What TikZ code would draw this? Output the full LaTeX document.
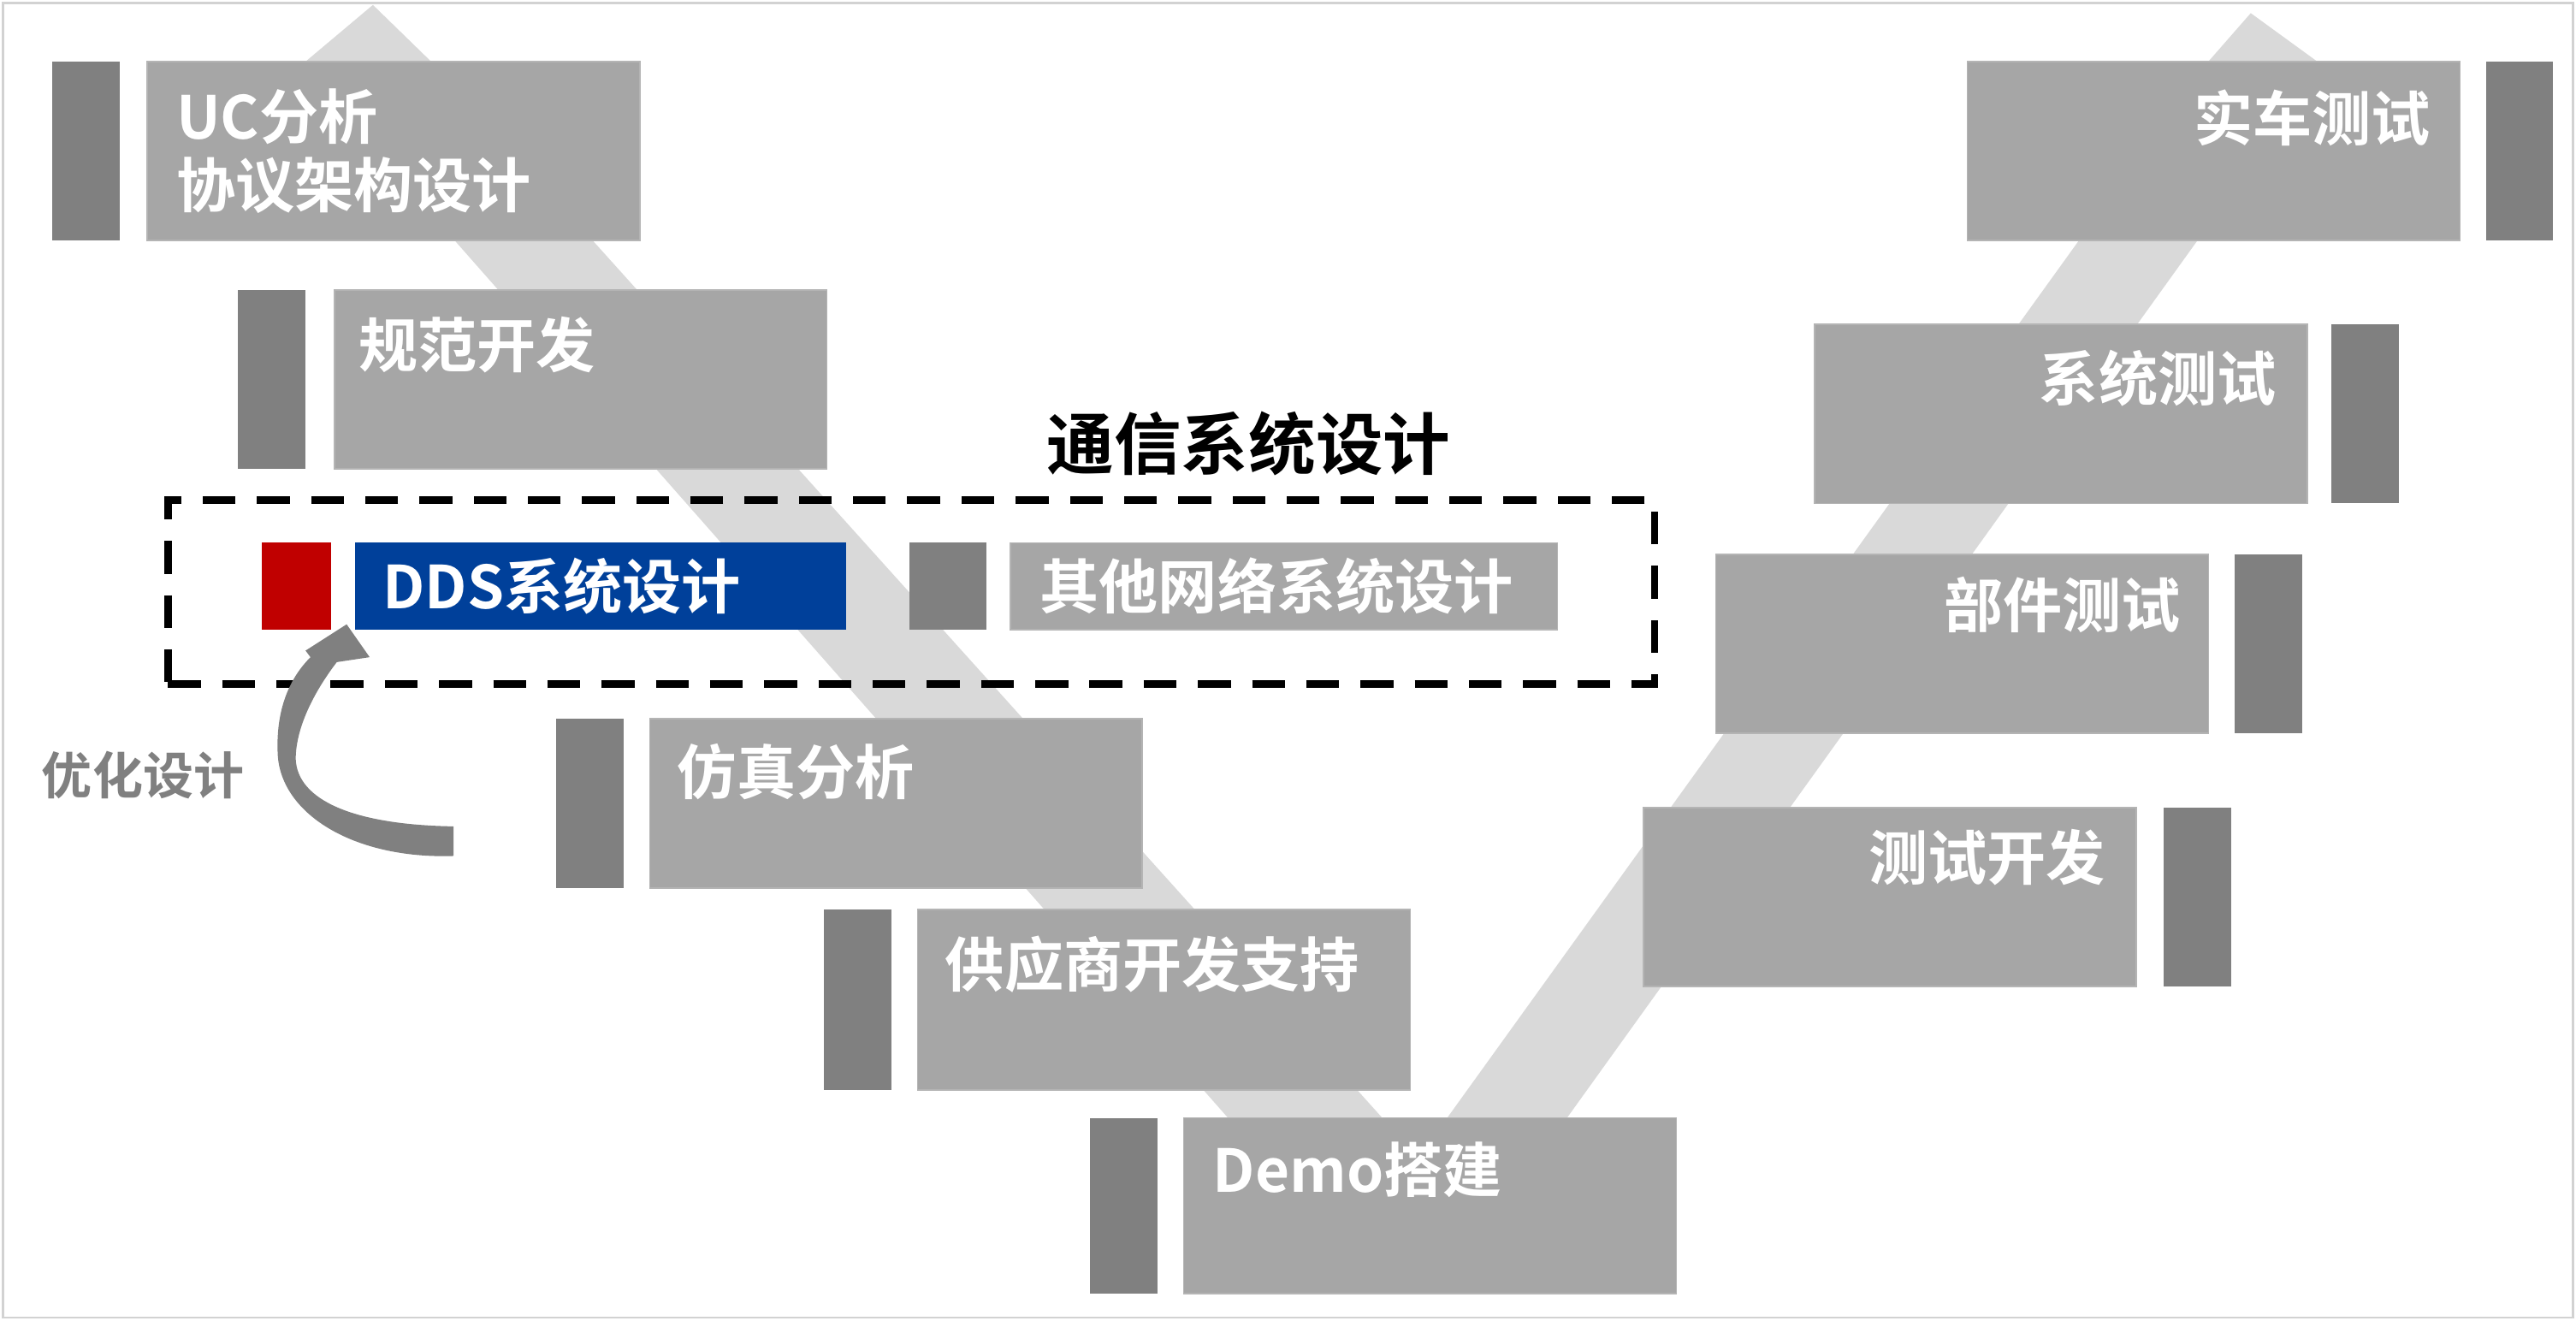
\documentclass[tikz,border=0pt]{standalone}
\usepackage{fontspec}
\setmainfont{Noto Sans CJK SC}[BoldFont={Noto Sans CJK SC Bold}]
\usetikzlibrary{positioning}

\definecolor{boxgray}{HTML}{A6A6A6}
\definecolor{boxline}{HTML}{B4B4B4}
\definecolor{bargray}{HTML}{808080}
\definecolor{bandgray}{HTML}{D9D9D9}
\definecolor{ddsblue}{HTML}{00409A}
\definecolor{ddsred}{HTML}{C00000}

\tikzset{
  stagebox/.style={rectangle, fill=boxgray, draw=boxline, line width=0.5pt,
    minimum width=6cm, minimum height=2.18cm, inner sep=0pt, anchor=north west},
  stagebar/.style={rectangle, fill=bargray, minimum width=0.82cm,
    minimum height=2.18cm, inner sep=0pt},
  stagetext/.style={text=white, inner sep=0pt,
    font=\bfseries\fontsize{20.5}{23.5}\selectfont},
}

\begin{document}
\begin{tikzpicture}[x=0.02cm, y=-0.02cm]
  \useasboundingbox (0,0) rectangle (1568,804);
  \draw[gray!35, line width=0.8pt] (2,2) rectangle (1566,802);

  % the V band behind the stages
  \fill[bandgray] (227,3) -- (265,40) -- (895,740) -- (800,740) -- (183,40) -- cycle;
  \fill[bandgray] (1370,8) -- (1414,40) -- (911,740) -- (838,740) -- (1342,40) -- cycle;

  % left side
  \node[stagebox] (uc) at (89,37) {};
  \node[stagebar, left=0.32cm of uc] (ucbar) {};
  \node[stagebox] (spec) at (203,176) {};
  \node[stagebar, left=0.34cm of spec] (specbar) {};
  \node[stagebox, minimum height=2.06cm] (sim) at (395,437) {};
  \node[stagebar, minimum height=2.06cm, left=0.3cm of sim] (simbar) {};
  \node[stagebox, minimum height=2.2cm] (supp) at (558,553) {};
  \node[stagebar, minimum height=2.2cm, left=0.3cm of supp] (suppbar) {};
  \node[stagebox, minimum height=2.14cm] (demo) at (720,680) {};
  \node[stagebar, minimum height=2.14cm, left=0.3cm of demo] (demobar) {};

  % right side
  \node[stagebox] (car) at (1197,37) {};
  \node[stagebar, right=0.3cm of car] (carbar) {};
  \node[stagebox] (sys) at (1104,197) {};
  \node[stagebar, right=0.28cm of sys] (sysbar) {};
  \node[stagebox] (part) at (1044,337) {};
  \node[stagebar, right=0.3cm of part] (partbar) {};
  \node[stagebox] (tdev) at (1000,491) {};
  \node[stagebar, right=0.32cm of tdev] (tdevbar) {};

  % communication system design
  \node[rectangle, draw=black, line width=2.6pt, dash pattern=on 0.4cm off 0.26cm,
    minimum width=18.1cm, minimum height=2.24cm, anchor=north west] (comm) at (100,302) {};
  \node[font=\bfseries\fontsize{23.3}{26}\selectfont, inner sep=0pt] (commtitle) at (760,270) {通信系统设计};
  \node[rectangle, fill=ddsred, minimum width=0.84cm, minimum height=1.06cm,
    inner sep=0pt, anchor=north west] (ddsbar) at (159,330) {};
  \node[rectangle, fill=ddsblue, minimum width=5.98cm, minimum height=1.06cm,
    inner sep=0pt, right=0.28cm of ddsbar] (dds) {};
  \node[rectangle, fill=bargray, minimum width=0.94cm, minimum height=1.06cm,
    inner sep=0pt, anchor=north west] (otherbar) at (553,330) {};
  \node[stagebox, minimum width=6.66cm, minimum height=1.06cm, anchor=west,
    right=0.28cm of otherbar] (other) {};

  % texts
  \node[stagetext, anchor=west, align=left] (uctext) at ([shift={(18,55)}]uc.north west) {UC分析\\协议架构设计};
  \node[stagetext, anchor=west] (spectext) at ([shift={(15,34)}]spec.north west) {规范开发};
  \node[stagetext, anchor=west] (simtext) at ([shift={(17,33)}]sim.north west) {仿真分析};
  \node[stagetext, anchor=west] (supptext) at ([shift={(17,34)}]supp.north west) {供应商开发支持};
  \node[stagetext, anchor=west] (demotext) at ([shift={(18,32)}]demo.north west) {Demo搭建};
  \node[stagetext, anchor=east] (cartext) at ([shift={(-18,35)}]car.north east) {实车测试};
  \node[stagetext, anchor=east] (systext) at ([shift={(-19,33)}]sys.north east) {系统测试};
  \node[stagetext, anchor=east] (parttext) at ([shift={(-17,31)}]part.north east) {部件测试};
  \node[stagetext, anchor=east] (tdevtext) at ([shift={(-19,31)}]tdev.north east) {测试开发};
  \node[stagetext, anchor=west] (ddstext) at ([shift={(17,0)}]dds.west) {DDS系统设计};
  \node[stagetext, anchor=west] (othertext) at ([shift={(18,0)}]other.west) {其他网络系统设计};

  % optimisation loop
  \node[text=bargray, inner sep=0pt, font=\bfseries\fontsize{17.5}{20}\selectfont] (opt) at (87,472) {优化设计};
  \fill[bargray] (211,380) -- (225,400) -- (205,403)
    .. controls (189,424) and (180,445) .. (180,462)
    .. controls (181,487) and (215,502) .. (276,503)
    -- (276,521)
    .. controls (215,523) and (170,495) .. (169,458)
    .. controls (168,432) and (176,413) .. (189,400)
    -- (186,396) -- cycle;
\end{tikzpicture}
\end{document}
